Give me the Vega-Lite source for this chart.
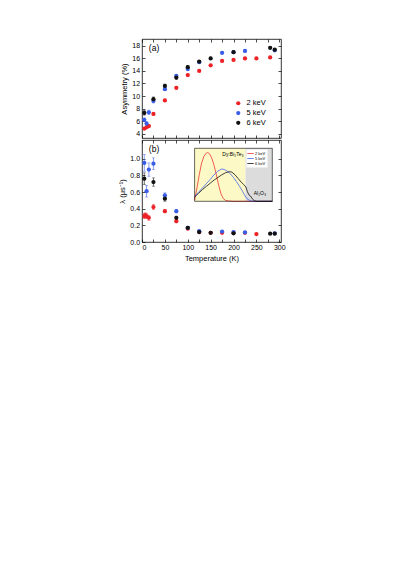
{
  "$schema": "https://vega.github.io/schema/vega-lite/v6.json",
  "background": "white",
  "padding": {"left": 118, "top": 38, "right": 5, "bottom": 5},
  "spacing": 0,
  "datasets": {
    "asym": [
      {"T": 5, "v": 4.8, "err": 0.2, "e": "2 keV"},
      {"T": 10, "v": 5.0, "err": 0.2, "e": "2 keV"},
      {"T": 15, "v": 5.2, "err": 0.2, "e": "2 keV"},
      {"T": 25, "v": 7.15, "err": 0.25, "e": "2 keV"},
      {"T": 50, "v": 9.3, "err": 0.2, "e": "2 keV"},
      {"T": 75, "v": 11.3, "err": 0.2, "e": "2 keV"},
      {"T": 100, "v": 13.35, "err": 0.15, "e": "2 keV"},
      {"T": 125, "v": 14.0, "err": 0.15, "e": "2 keV"},
      {"T": 150, "v": 14.9, "err": 0.15, "e": "2 keV"},
      {"T": 175, "v": 15.6, "err": 0.15, "e": "2 keV"},
      {"T": 200, "v": 15.75, "err": 0.15, "e": "2 keV"},
      {"T": 225, "v": 16.0, "err": 0.15, "e": "2 keV"},
      {"T": 250, "v": 16.0, "err": 0.15, "e": "2 keV"},
      {"T": 280, "v": 16.15, "err": 0.15, "e": "2 keV"},
      {"T": 5, "v": 6.2, "err": 0.3, "e": "5 keV"},
      {"T": 10, "v": 5.6, "err": 0.3, "e": "5 keV"},
      {"T": 15, "v": 7.4, "err": 0.35, "e": "5 keV"},
      {"T": 25, "v": 9.2, "err": 0.3, "e": "5 keV"},
      {"T": 50, "v": 11.1, "err": 0.25, "e": "5 keV"},
      {"T": 75, "v": 13.2, "err": 0.25, "e": "5 keV"},
      {"T": 100, "v": 14.3, "err": 0.2, "e": "5 keV"},
      {"T": 125, "v": 15.4, "err": 0.2, "e": "5 keV"},
      {"T": 175, "v": 16.9, "err": 0.2, "e": "5 keV"},
      {"T": 200, "v": 17.0, "err": 0.2, "e": "5 keV"},
      {"T": 225, "v": 17.2, "err": 0.2, "e": "5 keV"},
      {"T": 290, "v": 17.3, "err": 0.2, "e": "5 keV"},
      {"T": 5, "v": 7.3, "err": 0.35, "e": "6 keV"},
      {"T": 25, "v": 9.5, "err": 0.35, "e": "6 keV"},
      {"T": 50, "v": 11.6, "err": 0.3, "e": "6 keV"},
      {"T": 75, "v": 12.95, "err": 0.3, "e": "6 keV"},
      {"T": 100, "v": 14.6, "err": 0.25, "e": "6 keV"},
      {"T": 125, "v": 15.5, "err": 0.2, "e": "6 keV"},
      {"T": 150, "v": 16.0, "err": 0.2, "e": "6 keV"},
      {"T": 200, "v": 17.0, "err": 0.2, "e": "6 keV"},
      {"T": 280, "v": 17.7, "err": 0.2, "e": "6 keV"},
      {"T": 290, "v": 17.4, "err": 0.2, "e": "6 keV"}
    ],
    "lam": [
      {"T": 5, "v": 0.31, "err": 0.03, "e": "2 keV"},
      {"T": 7, "v": 0.32, "err": 0.03, "e": "2 keV"},
      {"T": 10, "v": 0.31, "err": 0.03, "e": "2 keV"},
      {"T": 15, "v": 0.29, "err": 0.03, "e": "2 keV"},
      {"T": 25, "v": 0.42, "err": 0.03, "e": "2 keV"},
      {"T": 50, "v": 0.37, "err": 0.02, "e": "2 keV"},
      {"T": 75, "v": 0.25, "err": 0.02, "e": "2 keV"},
      {"T": 100, "v": 0.16, "err": 0.01, "e": "2 keV"},
      {"T": 125, "v": 0.12, "err": 0.01, "e": "2 keV"},
      {"T": 150, "v": 0.11, "err": 0.01, "e": "2 keV"},
      {"T": 175, "v": 0.11, "err": 0.01, "e": "2 keV"},
      {"T": 200, "v": 0.11, "err": 0.01, "e": "2 keV"},
      {"T": 225, "v": 0.11, "err": 0.01, "e": "2 keV"},
      {"T": 250, "v": 0.095, "err": 0.01, "e": "2 keV"},
      {"T": 5, "v": 0.95, "err": 0.1, "e": "5 keV"},
      {"T": 10, "v": 0.61, "err": 0.07, "e": "5 keV"},
      {"T": 15, "v": 0.87, "err": 0.08, "e": "5 keV"},
      {"T": 25, "v": 0.94, "err": 0.07, "e": "5 keV"},
      {"T": 50, "v": 0.56, "err": 0.03, "e": "5 keV"},
      {"T": 75, "v": 0.37, "err": 0.02, "e": "5 keV"},
      {"T": 100, "v": 0.17, "err": 0.015, "e": "5 keV"},
      {"T": 125, "v": 0.13, "err": 0.01, "e": "5 keV"},
      {"T": 175, "v": 0.125, "err": 0.01, "e": "5 keV"},
      {"T": 200, "v": 0.12, "err": 0.01, "e": "5 keV"},
      {"T": 225, "v": 0.115, "err": 0.01, "e": "5 keV"},
      {"T": 290, "v": 0.105, "err": 0.01, "e": "5 keV"},
      {"T": 5, "v": 0.76, "err": 0.07, "e": "6 keV"},
      {"T": 25, "v": 0.72, "err": 0.05, "e": "6 keV"},
      {"T": 50, "v": 0.52, "err": 0.03, "e": "6 keV"},
      {"T": 75, "v": 0.29, "err": 0.02, "e": "6 keV"},
      {"T": 100, "v": 0.17, "err": 0.015, "e": "6 keV"},
      {"T": 125, "v": 0.12, "err": 0.01, "e": "6 keV"},
      {"T": 150, "v": 0.11, "err": 0.01, "e": "6 keV"},
      {"T": 200, "v": 0.105, "err": 0.01, "e": "6 keV"},
      {"T": 280, "v": 0.1, "err": 0.01, "e": "6 keV"},
      {"T": 290, "v": 0.1, "err": 0.01, "e": "6 keV"}
    ],
    "prof": [
      {"d": 0, "s": 0.02, "e": "2 keV"}, {"d": 3, "s": 0.25, "e": "2 keV"}, {"d": 6, "s": 0.5, "e": "2 keV"},
      {"d": 9, "s": 0.72, "e": "2 keV"}, {"d": 12, "s": 0.85, "e": "2 keV"}, {"d": 15, "s": 0.91, "e": "2 keV"},
      {"d": 17, "s": 0.92, "e": "2 keV"}, {"d": 19, "s": 0.9, "e": "2 keV"}, {"d": 22, "s": 0.82, "e": "2 keV"},
      {"d": 25, "s": 0.68, "e": "2 keV"}, {"d": 28, "s": 0.5, "e": "2 keV"}, {"d": 31, "s": 0.3, "e": "2 keV"},
      {"d": 34, "s": 0.14, "e": "2 keV"}, {"d": 37, "s": 0.05, "e": "2 keV"}, {"d": 40, "s": 0.015, "e": "2 keV"},
      {"d": 45, "s": 0.005, "e": "2 keV"}, {"d": 50, "s": 0, "e": "2 keV"}, {"d": 100, "s": 0, "e": "2 keV"},
      {"d": 0, "s": 0.09, "e": "5 keV"}, {"d": 5, "s": 0.17, "e": "5 keV"}, {"d": 10, "s": 0.25, "e": "5 keV"},
      {"d": 15, "s": 0.33, "e": "5 keV"}, {"d": 20, "s": 0.41, "e": "5 keV"}, {"d": 25, "s": 0.5, "e": "5 keV"},
      {"d": 30, "s": 0.57, "e": "5 keV"}, {"d": 35, "s": 0.61, "e": "5 keV"}, {"d": 38, "s": 0.6, "e": "5 keV"},
      {"d": 42, "s": 0.57, "e": "5 keV"}, {"d": 46, "s": 0.52, "e": "5 keV"}, {"d": 50, "s": 0.45, "e": "5 keV"},
      {"d": 54, "s": 0.37, "e": "5 keV"}, {"d": 58, "s": 0.28, "e": "5 keV"}, {"d": 62, "s": 0.18, "e": "5 keV"},
      {"d": 65, "s": 0.1, "e": "5 keV"}, {"d": 68, "s": 0.04, "e": "5 keV"}, {"d": 72, "s": 0.01, "e": "5 keV"},
      {"d": 76, "s": 0, "e": "5 keV"}, {"d": 100, "s": 0, "e": "5 keV"},
      {"d": 0, "s": 0.08, "e": "6 keV"}, {"d": 5, "s": 0.15, "e": "6 keV"}, {"d": 10, "s": 0.22, "e": "6 keV"},
      {"d": 15, "s": 0.28, "e": "6 keV"}, {"d": 20, "s": 0.34, "e": "6 keV"}, {"d": 25, "s": 0.4, "e": "6 keV"},
      {"d": 30, "s": 0.45, "e": "6 keV"}, {"d": 35, "s": 0.5, "e": "6 keV"}, {"d": 40, "s": 0.54, "e": "6 keV"},
      {"d": 45, "s": 0.56, "e": "6 keV"}, {"d": 48, "s": 0.55, "e": "6 keV"}, {"d": 52, "s": 0.5, "e": "6 keV"},
      {"d": 56, "s": 0.43, "e": "6 keV"}, {"d": 60, "s": 0.36, "e": "6 keV"}, {"d": 63, "s": 0.32, "e": "6 keV"},
      {"d": 66, "s": 0.27, "e": "6 keV"}, {"d": 68, "s": 0.18, "e": "6 keV"}, {"d": 70, "s": 0.12, "e": "6 keV"},
      {"d": 72, "s": 0.1, "e": "6 keV"}, {"d": 74, "s": 0.05, "e": "6 keV"}, {"d": 77, "s": 0.01, "e": "6 keV"},
      {"d": 80, "s": 0, "e": "6 keV"}, {"d": 100, "s": 0, "e": "6 keV"}
    ],
    "zones": [
      {"a": 0, "b": 65.5, "zone": "film"},
      {"a": 65.5, "b": 100, "zone": "substrate"}
    ]
  },
  "vconcat": [
    {
      "width": 139,
      "height": 99,
      "data": {"name": "asym"},
      "layer": [
        {
          "mark": {"type": "errorbar", "ticks": {"size": 3}, "thickness": 0.6},
          "encoding": {
            "x": {"field": "T", "type": "quantitative", "scale": {"domain": [0, 303.7], "nice": false},
                  "axis": {"orient": "top", "values": [0,25,50,75,100,125,150,175,200,225,250,275,300], "labels": false, "title": null}},
            "y": {"field": "v", "type": "quantitative", "scale": {"domain": [3.3, 19.1], "nice": false, "zero": false},
                  "axis": {"orient": "right", "values": [4,6,8,10,12,14,16,18], "labels": false, "title": null}},
            "yError": {"field": "err"},
            "color": {"field": "e", "type": "nominal", "scale": {"domain": ["2 keV", "5 keV", "6 keV"], "range": ["#ec2227", "#3a5de6", "#111111"]},
                      "legend": {"orient": "none", "legendX": 92.5, "legendY": 60.5, "title": null, "symbolType": "circle", "symbolSize": 18, "symbolStrokeWidth": 0, "symbolOpacity": 1, "labelFontSize": 7.5, "labelOffset": 4.5, "rowPadding": 0.8, "padding": 0, "labelColor": "black"}}
          }
        },
        {
          "mark": {"type": "point", "filled": true, "size": 18, "opacity": 1},
          "encoding": {
            "x": {"field": "T", "type": "quantitative",
                  "axis": {"orient": "bottom", "values": [0,25,50,75,100,125,150,175,200,225,250,275,300], "labels": false, "title": null}},
            "y": {"field": "v", "type": "quantitative",
                  "axis": {"orient": "left", "values": [4,6,8,10,12,14,16,18], "title": "Asymmetry (%)"}},
            "color": {"field": "e", "type": "nominal",
                      "legend": {"orient": "none", "legendX": 92.5, "legendY": 60.5, "title": null, "symbolType": "circle", "symbolSize": 18, "symbolStrokeWidth": 0, "symbolOpacity": 1, "labelFontSize": 7.5, "labelOffset": 4.5, "rowPadding": 0.8, "padding": 0, "labelColor": "black"}}
          }
        },
        {
          "data": {"values": [{}]},
          "mark": {"type": "text", "align": "left", "baseline": "middle", "fontSize": 8.5, "color": "black"},
          "encoding": {
            "x": {"datum": 15, "type": "quantitative", "axis": null},
            "y": {"datum": 17.6, "type": "quantitative", "axis": null},
            "text": {"value": "(a)"}
          }
        }
      ],
      "resolve": {"axis": {"x": "independent", "y": "independent"}}
    },
    {
      "width": 139,
      "height": 102,
      "layer": [
        {
          "data": {"name": "lam"},
          "layer": [
            {
              "mark": {"type": "errorbar", "ticks": {"size": 3}, "thickness": 0.6},
              "encoding": {
                "x": {"field": "T", "type": "quantitative", "scale": {"domain": [0, 303.7], "nice": false},
                      "axis": {"orient": "top", "values": [0,25,50,75,100,125,150,175,200,225,250,275,300], "labels": false, "title": null}},
                "y": {"field": "v", "type": "quantitative", "scale": {"domain": [0, 1.225], "nice": false},
                      "axis": {"orient": "right", "values": [0,0.2,0.4,0.6,0.8,1.0], "labels": false, "title": null}},
                "yError": {"field": "err"},
                "color": {"field": "e", "type": "nominal", "scale": {"domain": ["2 keV", "5 keV", "6 keV"], "range": ["#ec2227", "#3a5de6", "#111111"]}, "legend": null}
              }
            },
            {
              "mark": {"type": "point", "filled": true, "size": 18, "opacity": 1},
              "encoding": {
                "x": {"field": "T", "type": "quantitative",
                      "axis": {"orient": "bottom", "values": [0,25,50,75,100,125,150,175,200,225,250,275,300], "labelExpr": "datum.value % 50 === 0 ? datum.label : ''", "labelPadding": 4.5, "title": "Temperature (K)", "titlePadding": 3.5}},
                "y": {"field": "v", "type": "quantitative",
                      "axis": {"orient": "left", "values": [0,0.2,0.4,0.6,0.8,1.0], "format": ".1f", "title": "λ (μs⁻¹)"}},
                "color": {"field": "e", "type": "nominal", "legend": null}
              }
            },
            {
              "data": {"values": [{}]},
              "mark": {"type": "text", "align": "left", "baseline": "middle", "fontSize": 8.5, "color": "black"},
              "encoding": {
                "x": {"datum": 15, "type": "quantitative", "axis": null},
                "y": {"datum": 1.117, "type": "quantitative", "axis": null},
                "text": {"value": "(b)"}
              }
            }
          ],
          "resolve": {"axis": {"x": "independent", "y": "independent"}}
        },
        {
          "layer": [
            {
              "data": {"name": "zones"},
              "mark": {"type": "rect"},
              "encoding": {
                "x": {"field": "a", "type": "quantitative", "scale": {"domain": [0, 100], "range": [52.6, 130.3], "nice": false},
                      "axis": {"orient": "bottom", "offset": -40.7, "values": [0,20,40,60,80,100], "tickSize": -1.5, "tickWidth": 0.5, "labelFontSize": 4.3, "labelPadding": 2.5, "title": "Depth (nm)", "titleFontSize": 5.5, "titlePadding": 1}},
                "x2": {"field": "b"},
                "y": {"datum": 0, "type": "quantitative", "scale": {"domain": [0, 1], "range": [61.3, 8.3], "nice": false},
                      "axis": {"orient": "left", "offset": -52.6, "values": [0, 0.139, 0.278, 0.417, 0.556, 0.694, 0.833, 0.972], "tickSize": -1.5, "tickWidth": 0.5, "labels": false, "title": "Stopping profile", "titleFontSize": 5.5, "titlePadding": 1.5}},
                "y2": {"datum": 1},
                "fill": {"field": "zone", "type": "nominal", "scale": {"domain": ["film", "substrate"], "range": ["#fcf9c6", "#dcdcdc"]}, "legend": null}
              }
            },
            {
              "data": {"name": "prof"},
              "mark": {"type": "line", "strokeWidth": 0.8},
              "encoding": {
                "x": {"field": "d", "type": "quantitative", "axis": null},
                "y": {"field": "s", "type": "quantitative", "axis": null},
                "color": {"field": "e", "type": "nominal", "scale": {"domain": ["2 keV", "5 keV", "6 keV"], "range": ["#ee3333", "#4466ee", "#111111"]},
                          "legend": {"orient": "none", "legendX": 104.5, "legendY": 9.5, "title": null, "symbolType": "M-1.6,0H1.6", "symbolSize": 16, "symbolStrokeWidth": 0.8, "labelFontSize": 4, "labelOffset": 2, "rowPadding": 0, "padding": 1.5, "fillColor": "white", "labelColor": "black"}}
              }
            },
            {
              "data": {"values": [{}]},
              "mark": {"type": "text", "align": "right", "baseline": "middle", "fontSize": 5, "color": "black"},
              "encoding": {
                "x": {"datum": 63, "type": "quantitative", "axis": null},
                "y": {"datum": 0.9, "type": "quantitative", "axis": null},
                "text": {"value": "Dy:Bi₂Te₃"}
              }
            },
            {
              "data": {"values": [{}]},
              "mark": {"type": "text", "align": "center", "baseline": "middle", "fontSize": 5, "color": "black"},
              "encoding": {
                "x": {"datum": 84, "type": "quantitative", "axis": null},
                "y": {"datum": 0.16, "type": "quantitative", "axis": null},
                "text": {"value": "Al₂O₃"}
              }
            },
            {
              "data": {"values": [{}]},
              "mark": {"type": "rect", "fill": "transparent", "stroke": "black", "strokeWidth": 0.6},
              "encoding": {
                "x": {"datum": 0, "type": "quantitative", "axis": null},
                "x2": {"datum": 100},
                "y": {"datum": 0, "type": "quantitative", "axis": null},
                "y2": {"datum": 1}
              }
            }
          ]
        }
      ],
      "resolve": {"scale": {"x": "independent", "y": "independent", "color": "independent"}}
    }
  ],
  "resolve": {"scale": {"color": "independent"}, "legend": {"color": "independent"}},
  "config": {
    "font": "Liberation Sans",
    "view": {"stroke": "black", "strokeWidth": 0.8},
    "axis": {"domain": false, "grid": false, "tickColor": "black", "tickSize": -3, "tickWidth": 0.7, "labelFontSize": 7, "labelColor": "black", "labelPadding": 5.4, "titleFontSize": 7.5, "titleColor": "black", "titleFontWeight": "normal", "titlePadding": 3},
    "text": {"font": "Liberation Sans"}
  }
}
